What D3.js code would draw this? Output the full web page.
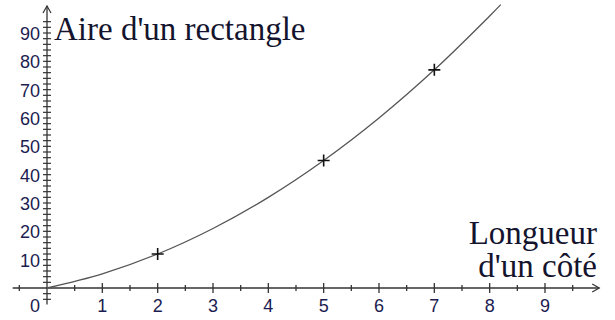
<!DOCTYPE html>
<html><head><meta charset="utf-8">
<script src="https://cdn.jsdelivr.net/npm/d3@7"></script>
<style>
body{margin:0;background:#fff}svg{display:block}
.lab{font-family:'Liberation Sans','Arial',sans-serif;font-size:18px;fill:#1c1c50}
.ttl{font-family:'Times New Roman','Liberation Serif','DejaVu Serif',serif;font-size:33px;fill:#14142e}
</style>
</head><body><svg id="c" width="615" height="320"></svg>
<script>
const curveX = [0, 1, 2, 3, 4, 5, 6, 7, 8, 8.2];
const curveY = [0, 5, 12, 21, 32, 45, 60, 77, 96, 100];
const pointsX = [2, 5, 7];
const pointsY = [12, 45, 77];
const xTickLabels = [1, 2, 3, 4, 5, 6, 7, 8, 9];
const yTickLabels = [10, 20, 30, 40, 50, 60, 70, 80, 90];
const yTitle = "Aire d'un rectangle";
const xTitle = ["Longueur", "d'un côté"];

const svg = d3.select("#c");
const x = d3.scaleLinear().domain([0, 9]).range([47, 545]);
const y = d3.scaleLinear().domain([0, 90]).range([288, 33]);
const axisColor = "#333";

// x axis
const xMinor = d3.range(-0.5, 9.6, 0.5).filter(v => Math.abs(v - Math.round(v)) > 0.01);
const xMajor = d3.range(1, 10, 1);
const gx = svg.append("g");
gx.append("line").attr("x1", x(-0.62)).attr("x2", x(9.98)).attr("y1", y(0)).attr("y2", y(0))
  .attr("stroke", axisColor).attr("stroke-width", 1.3);
gx.append("path").attr("d", `M${x(9.98)-7},${y(0)-4} L${x(9.98)},${y(0)} L${x(9.98)-7},${y(0)+4}`)
  .attr("fill", "none").attr("stroke", axisColor).attr("stroke-width", 1.2);
gx.selectAll(".xmn").data(xMinor).join("line")
  .attr("x1", d => x(d)).attr("x2", d => x(d)).attr("y1", y(0) - 3).attr("y2", y(0) + 3)
  .attr("stroke", axisColor).attr("stroke-width", 1.3);
gx.selectAll(".xmj").data(xMajor).join("line")
  .attr("x1", d => x(d)).attr("x2", d => x(d)).attr("y1", y(0) - 5).attr("y2", y(0) + 5)
  .attr("stroke", axisColor).attr("stroke-width", 1.3);
gx.selectAll("text").data(xTickLabels).join("text").attr("class", "lab")
  .attr("x", d => x(d)).attr("y", 312).attr("text-anchor", "middle").text(d => d);

// y axis
const yTicks = d3.range(-4, 95, 2);
const gy = svg.append("g");
gy.append("line").attr("x1", x(0)).attr("x2", x(0)).attr("y1", y(-5.8)).attr("y2", 6)
  .attr("stroke", axisColor).attr("stroke-width", 1.3);
gy.append("path").attr("d", `M${x(0)-4},${13} L${x(0)},${6} L${x(0)+4},${13}`)
  .attr("fill", "none").attr("stroke", axisColor).attr("stroke-width", 1.2);
gy.selectAll(".yt").data(yTicks.filter(d => d !== 0)).join("line")
  .attr("x1", x(0) - 4).attr("x2", x(0) + 4).attr("y1", d => y(d)).attr("y2", d => y(d))
  .attr("stroke", axisColor).attr("stroke-width", 1.2);
gy.selectAll("text").data(yTickLabels).join("text").attr("class", "lab")
  .attr("x", 40).attr("y", d => y(d) + 7).attr("text-anchor", "end").text(d => d);
svg.append("text").attr("class", "lab").attr("x", 40).attr("y", 312)
  .attr("text-anchor", "end").text("0");

// curve
const data = curveX.map((d, i) => [d, curveY[i]]);
svg.append("path").datum(data)
  .attr("d", d3.line().x(d => x(d[0])).y(d => y(d[1])).curve(d3.curveCatmullRom))
  .attr("fill", "none").attr("stroke", "#555").attr("stroke-width", 1.3);

// points
const pts = pointsX.map((d, i) => [d, pointsY[i]]);
svg.selectAll(".pt").data(pts).join("path")
  .attr("d", d => `M${x(d[0])-6},${y(d[1])} H${x(d[0])+6} M${x(d[0])},${y(d[1])-6} V${y(d[1])+6}`)
  .attr("stroke", "#111").attr("stroke-width", 1.6);

// titles
svg.append("text").attr("class", "ttl").attr("x", 54).attr("y", 40).text(yTitle);
svg.selectAll(".xt").data(xTitle).join("text").attr("class", "ttl")
  .attr("x", 597).attr("y", (d, i) => 244 + i * 33).attr("text-anchor", "end").text(d => d);
</script></body></html>
